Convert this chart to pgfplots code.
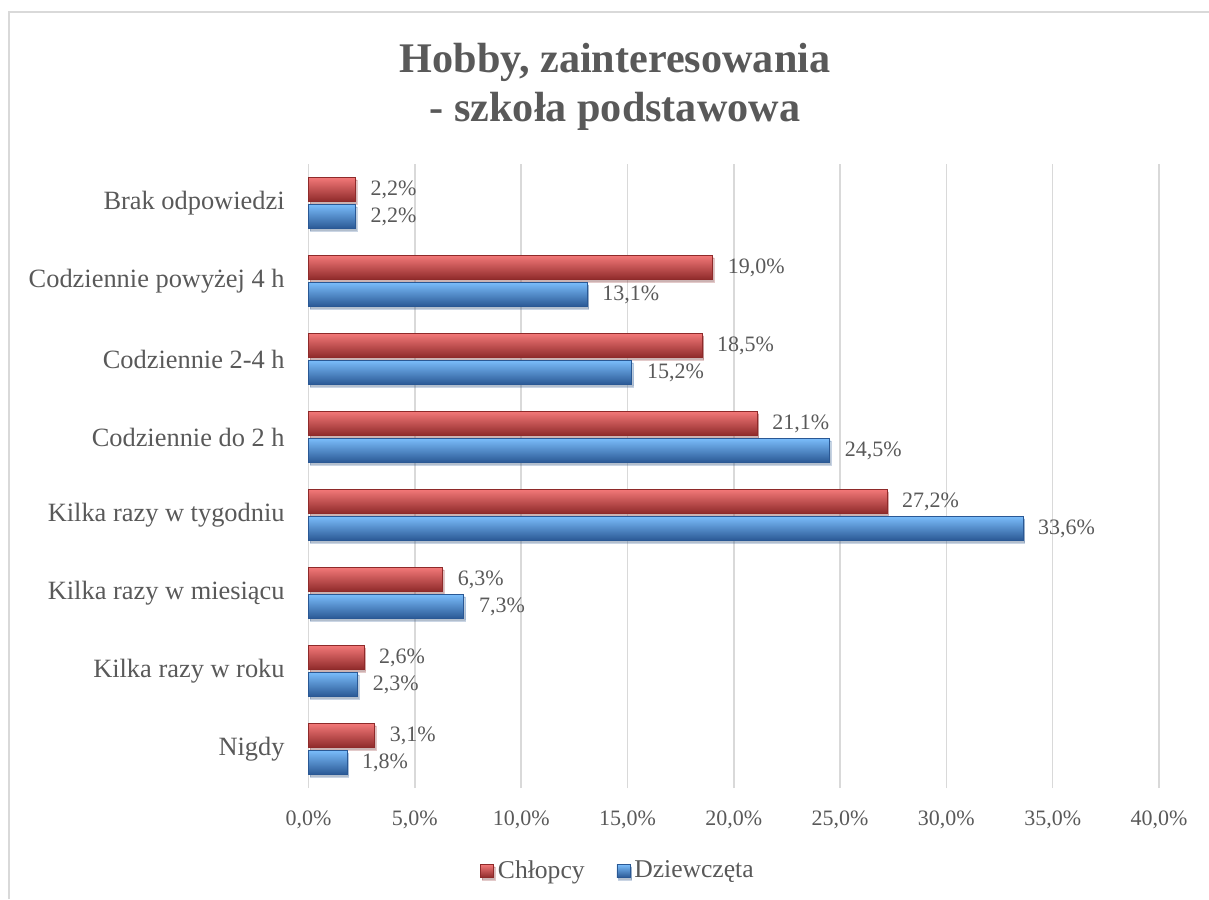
\documentclass[border=0pt]{standalone}
\usepackage{fontspec}
\setmainfont{Liberation Serif}
\usepackage{pgfplots}
\pgfplotsset{compat=1.18}
\usetikzlibrary{shadows}
\definecolor{txt}{HTML}{595959}
\definecolor{gridc}{HTML}{D9D9D9}
\definecolor{redT}{HTML}{F27878}
\definecolor{redM}{HTML}{D24646}
\definecolor{redB}{HTML}{8E2A2A}
\definecolor{bluT}{HTML}{7ABCFA}
\definecolor{bluM}{HTML}{4A88D4}
\definecolor{bluB}{HTML}{2A5894}

\pgfplotsset{
  redbar/.style={draw=redB,line width=0.3pt,top color=redT,middle color=redM,bottom color=redB,bar shift=6.75pt,
    drop shadow={opacity=0.25,shadow xshift=0.8pt,shadow yshift=-1.2pt},
    legend image code/.code={\path[top color=redT,middle color=redM,bottom color=redB] (0pt,-3.25pt) rectangle (6.5pt,3.25pt);}},
  blubar/.style={draw=bluB,line width=0.3pt,top color=bluT,middle color=bluM,bottom color=bluB,bar shift=-6.75pt,
    drop shadow={opacity=0.25,shadow xshift=0.8pt,shadow yshift=-1.2pt},
    legend image code/.code={\path[top color=bluT,middle color=bluM,bottom color=bluB] (0pt,-3.25pt) rectangle (6.5pt,3.25pt);}},
}

\begin{document}
\begin{tikzpicture}
\path[use as bounding box] (0pt,0pt) rectangle (604.5pt,449.5pt);
\draw[gridc,line width=0.75pt] (4.5pt,0pt) -- (4.5pt,443.5pt) -- (604.5pt,443.5pt);
\node[anchor=base,text=txt,font=\bfseries\fontsize{21.1}{24}\selectfont] at (307.5pt,413pt) {Hobby, zainteresowania};
\node[anchor=base,text=txt,font=\bfseries\fontsize{21.1}{24}\selectfont] at (307.5pt,388.5pt) {- szkoła podstawowa};
\begin{axis}[at={(154.3pt,55.5pt)},anchor=south west,scale only axis,
  width=425.2pt,height=312pt,
  xbar,bar width=12pt,clip=false,
  xmin=0,xmax=40,ymin=0.5,ymax=8.5,
  xtick={0,5,...,40},ytick={1,...,8},
  yticklabels={Nigdy,Kilka razy w roku,Kilka razy w miesiącu,Kilka razy w tygodniu,Codziennie do 2 h,Codziennie 2-4 h,Codziennie powyżej 4 h,Brak odpowiedzi},
  /pgf/number format/assume math mode=true,
  xticklabel={\pgfmathprintnumber[fixed,fixed zerofill,precision=1,use comma]{\tick}\%},
  xmajorgrids,grid style={gridc,line width=0.75pt},
  axis line style={draw=none},major tick length=0pt,
  xticklabel style={font=\fontsize{11}{13}\selectfont,text=txt,anchor=north,inner sep=0pt,yshift=-11pt},
  yticklabel style={font=\fontsize{13.2}{15}\selectfont,text=txt,anchor=east,inner sep=0pt,xshift=-11.8pt},
  point meta=x,
  nodes near coords={\pgfmathprintnumber[fixed,fixed zerofill,precision=1,use comma]{\pgfplotspointmeta}\%},
  every node near coord/.append style={font=\fontsize{11}{13}\selectfont,text=txt,anchor=west,inner sep=0pt,xshift=7.5pt},
  legend columns=2,
  legend style={at={(axis description cs:0.365,-0.133)},anchor=center,draw=none,fill=none,
    font=\fontsize{12.8}{15}\selectfont,text=txt,inner sep=0pt,
    /tikz/every even column/.append style={column sep=14pt}},
]
% one plot per bar, so that each bar gets its own bevel shading
\addplot[redbar] coordinates {(3.1,1)};
\addlegendentry{Chłopcy}
\addplot[blubar] coordinates {(1.8,1)};
\addlegendentry{Dziewczęta}
\addplot[redbar,forget plot] coordinates {(2.6,2)};
\addplot[blubar,forget plot] coordinates {(2.3,2)};
\addplot[redbar,forget plot] coordinates {(6.3,3)};
\addplot[blubar,forget plot] coordinates {(7.3,3)};
\addplot[redbar,forget plot] coordinates {(27.2,4)};
\addplot[blubar,forget plot] coordinates {(33.6,4)};
\addplot[redbar,forget plot] coordinates {(21.1,5)};
\addplot[blubar,forget plot] coordinates {(24.5,5)};
\addplot[redbar,forget plot] coordinates {(18.5,6)};
\addplot[blubar,forget plot] coordinates {(15.2,6)};
\addplot[redbar,forget plot] coordinates {(19.0,7)};
\addplot[blubar,forget plot] coordinates {(13.1,7)};
\addplot[redbar,forget plot] coordinates {(2.2,8)};
\addplot[blubar,forget plot] coordinates {(2.2,8)};
\end{axis}
\end{tikzpicture}
\end{document}
